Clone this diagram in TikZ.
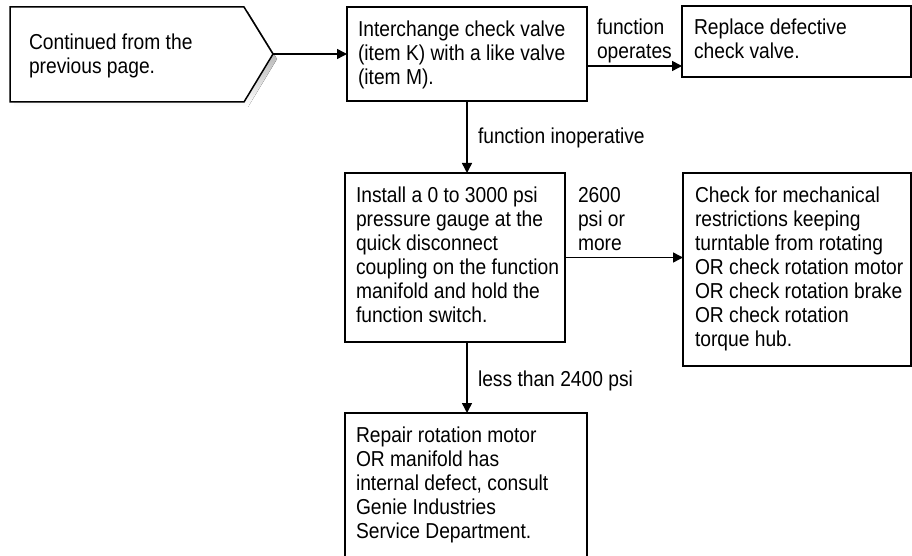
\documentclass[tikz,border=0pt]{standalone}
\usepackage{fontspec}
\setmainfont{Liberation Sans}[FakeStretch=0.89]
\usetikzlibrary{arrows.meta}
\definecolor{shade}{HTML}{C8C8C8}
\newcommand\mylines[1]{\parbox[t]{400pt}{\raggedright #1}}
\tikzset{
  box/.style={draw, line width=1.5pt, fill=white, inner sep=0pt, outer sep=0pt, anchor=north west},
  txt/.style={inner sep=0pt, outer sep=0pt, anchor=base west, font=\fontsize{21.6}{24}\selectfont},
  arr/.style={line width=1.5pt, -{Triangle[length=10pt,width=10pt]}},
}
\begin{document}
\begin{tikzpicture}[x=1pt,y=-1pt]
\useasboundingbox (0,0) rectangle (912,556);
\clip (0,0) rectangle (912,556);
% off-page connector (pentagon) with shadow
\fill[shade] (14,12) -- (248,12) -- (277,59) -- (248,107) -- (14,107) -- cycle;
\draw[line width=1.5pt, fill=white, line join=miter] (10,7) -- (244,7) -- (273,54) -- (244,102) -- (10,102) -- cycle;
\coordinate (tip) at (273,54);
\node[txt] (tp) at (29,50) {\mylines{Continued from the\\previous page.}};
% boxes
\node[box, minimum width=240pt, minimum height=94pt] (b1) at (347,7) {};
\node[box, minimum width=229pt, minimum height=71pt] (b2) at (682,6) {};
\node[box, minimum width=220pt, minimum height=169pt] (b3) at (345,173) {};
\node[box, minimum width=228pt, minimum height=193pt] (b4) at (683,173) {};
\node[box, minimum width=242pt, minimum height=170pt] (b5) at (345,413) {};
% box texts
\node[txt] (t1) at (358,37) {\mylines{Interchange check valve\\(item K) with a like valve\\(item M).}};
\node[txt] (t2) at (694,35) {\mylines{Replace defective\\check valve.}};
\node[txt] (t3) at (356,202) {\mylines{Install a 0 to 3000 psi\\pressure gauge at the\\quick disconnect\\coupling on the function\\manifold and hold the\\function switch.}};
\node[txt] (t4) at (695,202) {\mylines{Check for mechanical\\restrictions keeping\\turntable from rotating\\OR check rotation motor\\OR check rotation brake\\OR check rotation\\torque hub.}};
\node[txt] (t5) at (356,442) {\mylines{Repair rotation motor\\OR manifold has\\internal defect, consult\\Genie Industries\\Service Department.}};
% connector labels
\node[txt] (l1) at (597,35) {\mylines{function\\operates}};
\node[txt] (l2) at (478,144) {function inoperative};
\node[txt] (l3) at (578,202) {\mylines{2600\\psi or\\more}};
\node[txt] (l4) at (478,386) {less than 2400 psi};
% connectors
\draw[arr] (tip) -- (tip -| b1.west);
\path ([yshift=-12pt]b1.east) coordinate (a1);
\draw[arr] (a1) -- (a1 -| b2.west);
\draw[arr] (b1.south) -- (b1.south |- b3.north);
\draw[arr] (b3.east) -- (b3.east -| b4.west);
\draw[arr] (b1.south |- b3.south) -- (b1.south |- b5.north);
\end{tikzpicture}
\end{document}
